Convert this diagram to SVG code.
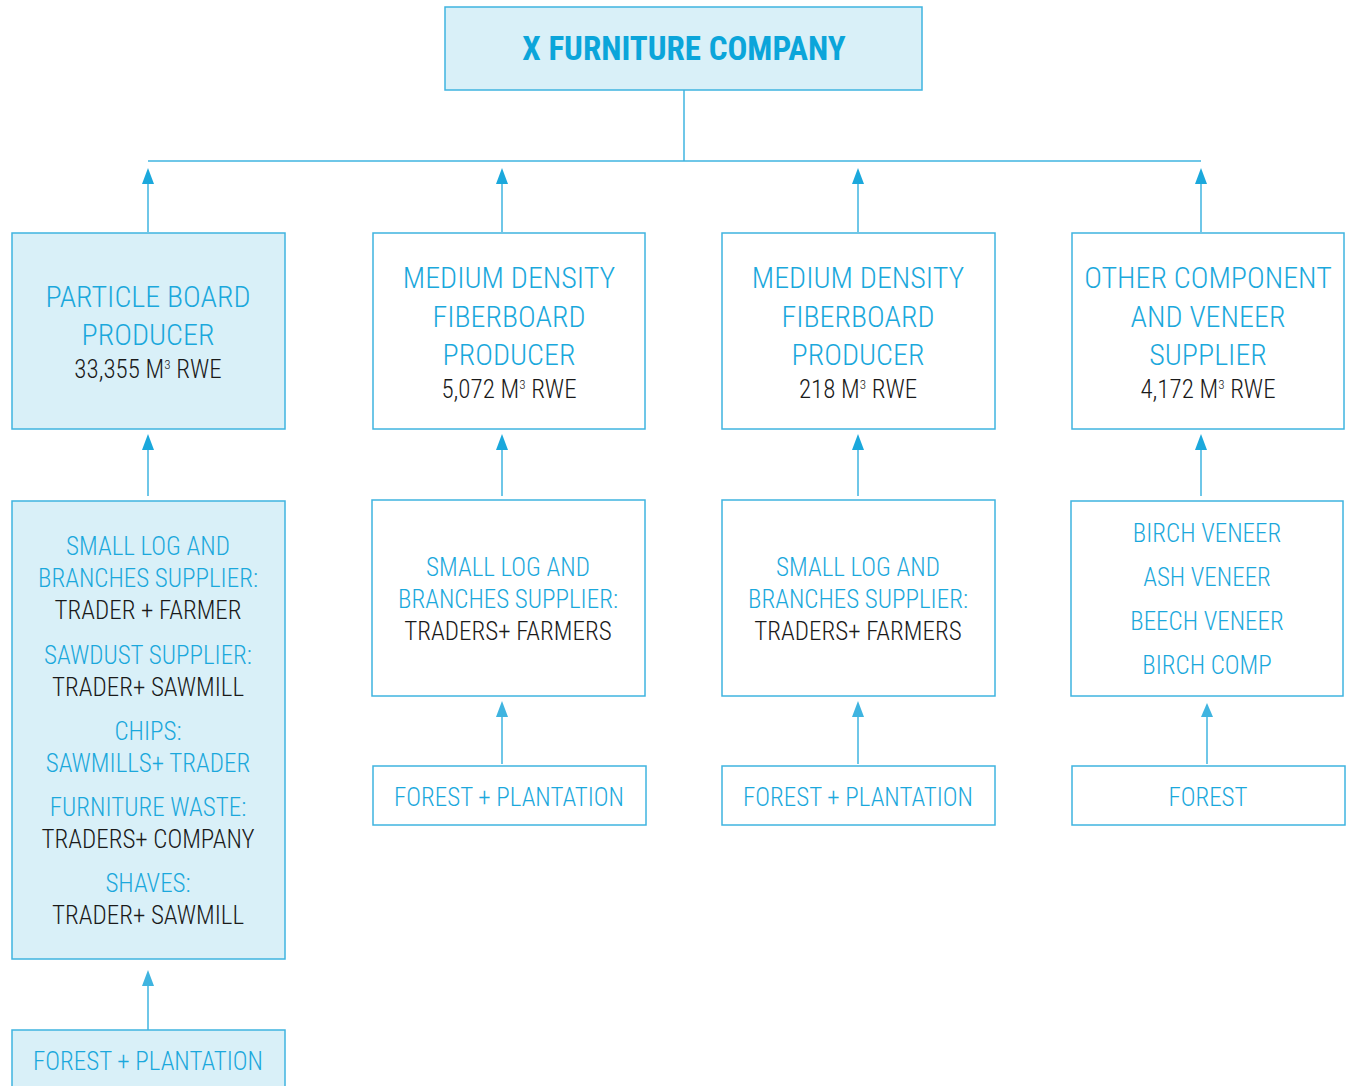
<svg xmlns="http://www.w3.org/2000/svg" width="1351" height="1086" viewBox="0 0 1351 1086">
<defs>
<style>
.box{fill:#fff;stroke:#3fb4e0;stroke-width:1.5}
.fill{fill:#d9f0f8}
.t{font-family:"Roboto Condensed","Liberation Sans Narrow","DejaVu Sans Condensed",sans-serif;text-anchor:middle;font-weight:300}
.b{fill:#1ba8dc}
.k{fill:#1a1a1a}
.h{font-size:30px}
.m{font-size:25px}
.s{font-size:25px}
.sup{font-size:13px}
.con{stroke:#3fb4e0;stroke-width:1.5;fill:none}
</style>
</defs>
<rect width="1351" height="1086" fill="#fff"/>
<g id="connectors">
<line class="con" x1="684" y1="90" x2="684" y2="161"/>
<line class="con" x1="148" y1="161" x2="1201" y2="161"/>
<path class="con" d="M148,232 V184"/><path d="M142,184 L148,168 L154,184 Z" fill="#1ba8dc"/>
<path class="con" d="M502,232 V184"/><path d="M496,184 L502,168 L508,184 Z" fill="#1ba8dc"/>
<path class="con" d="M858,232 V184"/><path d="M852,184 L858,168 L864,184 Z" fill="#1ba8dc"/>
<path class="con" d="M1201,232 V184"/><path d="M1195,184 L1201,168 L1207,184 Z" fill="#1ba8dc"/>
<path class="con" d="M148,496 V450"/><path d="M142,450 L148,434 L154,450 Z" fill="#1ba8dc"/>
<path class="con" d="M502,496 V450"/><path d="M496,450 L502,434 L508,450 Z" fill="#1ba8dc"/>
<path class="con" d="M858,496 V450"/><path d="M852,450 L858,434 L864,450 Z" fill="#1ba8dc"/>
<path class="con" d="M1201,496 V450"/><path d="M1195,450 L1201,434 L1207,450 Z" fill="#1ba8dc"/>
<path class="con" d="M502,764 V717"/><path d="M496,717 L502,701 L508,717 Z" fill="#3fb4e0"/>
<path class="con" d="M858,764 V717"/><path d="M852,717 L858,701 L864,717 Z" fill="#3fb4e0"/>
<path class="con" d="M1207,764 V717"/><path d="M1201,717 L1207,703 L1213,717 Z" fill="#3fb4e0"/>
<path class="con" d="M148,1030 V986"/><path d="M142,986 L148,970 L154,986 Z" fill="#3fb4e0"/>
</g>
<g id="company">
<rect class="box fill" x="445" y="7" width="477" height="83"/>
<text class="t" x="684" y="60" style="font-size:33px;font-weight:bold;fill:#0ba5da">X FURNITURE COMPANY</text>
</g>
<g id="particle-board">
<rect class="box fill" x="12" y="233" width="273" height="196"/>
<text class="t b h" x="148" y="307">PARTICLE BOARD</text>
<text class="t b h" x="148" y="345">PRODUCER</text>
<text class="t k m" x="148" y="378">33,355 M<tspan class="sup" dy="-9">3</tspan><tspan dy="9"> RWE</tspan></text>
</g>
<g id="mdf-1">
<rect class="box" x="373" y="233" width="272" height="196"/>
<text class="t b h" x="509" y="288">MEDIUM DENSITY</text>
<text class="t b h" x="509" y="327">FIBERBOARD</text>
<text class="t b h" x="509" y="365">PRODUCER</text>
<text class="t k m" x="509" y="398">5,072 M<tspan class="sup" dy="-9">3</tspan><tspan dy="9"> RWE</tspan></text>
</g>
<g id="mdf-2">
<rect class="box" x="722" y="233" width="273" height="196"/>
<text class="t b h" x="858" y="288">MEDIUM DENSITY</text>
<text class="t b h" x="858" y="327">FIBERBOARD</text>
<text class="t b h" x="858" y="365">PRODUCER</text>
<text class="t k m" x="858" y="398">218 M<tspan class="sup" dy="-9">3</tspan><tspan dy="9"> RWE</tspan></text>
</g>
<g id="other-supplier">
<rect class="box" x="1072" y="233" width="272" height="196"/>
<text class="t b h" x="1208" y="288">OTHER COMPONENT</text>
<text class="t b h" x="1208" y="327">AND VENEER</text>
<text class="t b h" x="1208" y="365">SUPPLIER</text>
<text class="t k m" x="1208" y="398">4,172 M<tspan class="sup" dy="-9">3</tspan><tspan dy="9"> RWE</tspan></text>
</g>
<g id="suppliers-1">
<rect class="box fill" x="12" y="501" width="273" height="458"/>
<text class="t b s" x="148" y="555">SMALL LOG AND</text>
<text class="t b s" x="148" y="587">BRANCHES SUPPLIER:</text>
<text class="t k s" x="148" y="619">TRADER + FARMER</text>
<text class="t b s" x="148" y="664">SAWDUST SUPPLIER:</text>
<text class="t k s" x="148" y="696">TRADER+ SAWMILL</text>
<text class="t b s" x="148" y="740">CHIPS:</text>
<text class="t b s" x="148" y="772">SAWMILLS+ TRADER</text>
<text class="t b s" x="148" y="816">FURNITURE WASTE:</text>
<text class="t k s" x="148" y="848">TRADERS+ COMPANY</text>
<text class="t b s" x="148" y="892">SHAVES:</text>
<text class="t k s" x="148" y="924">TRADER+ SAWMILL</text>
</g>
<g id="suppliers-2">
<rect class="box" x="372" y="500" width="273" height="196"/>
<text class="t b s" x="508" y="576">SMALL LOG AND</text>
<text class="t b s" x="508" y="608">BRANCHES SUPPLIER:</text>
<text class="t k s" x="508" y="640">TRADERS+ FARMERS</text>
</g>
<g id="suppliers-3">
<rect class="box" x="722" y="500" width="273" height="196"/>
<text class="t b s" x="858" y="576">SMALL LOG AND</text>
<text class="t b s" x="858" y="608">BRANCHES SUPPLIER:</text>
<text class="t k s" x="858" y="640">TRADERS+ FARMERS</text>
</g>
<g id="veneers">
<rect class="box" x="1071" y="501" width="272" height="195"/>
<text class="t b s" x="1207" y="542">BIRCH VENEER</text>
<text class="t b s" x="1207" y="586">ASH VENEER</text>
<text class="t b s" x="1207" y="630">BEECH VENEER</text>
<text class="t b s" x="1207" y="674">BIRCH COMP</text>
</g>
<g id="forest-1">
<rect class="box fill" x="12" y="1030" width="273" height="70"/>
<text class="t b s" x="148" y="1070">FOREST + PLANTATION</text>
</g>
<g id="forest-2">
<rect class="box" x="373" y="766" width="273" height="59"/>
<text class="t b s" x="509" y="806">FOREST + PLANTATION</text>
</g>
<g id="forest-3">
<rect class="box" x="722" y="766" width="273" height="59"/>
<text class="t b s" x="858" y="806">FOREST + PLANTATION</text>
</g>
<g id="forest-4">
<rect class="box" x="1072" y="766" width="273" height="59"/>
<text class="t b s" x="1208" y="806">FOREST</text>
</g>
</svg>
